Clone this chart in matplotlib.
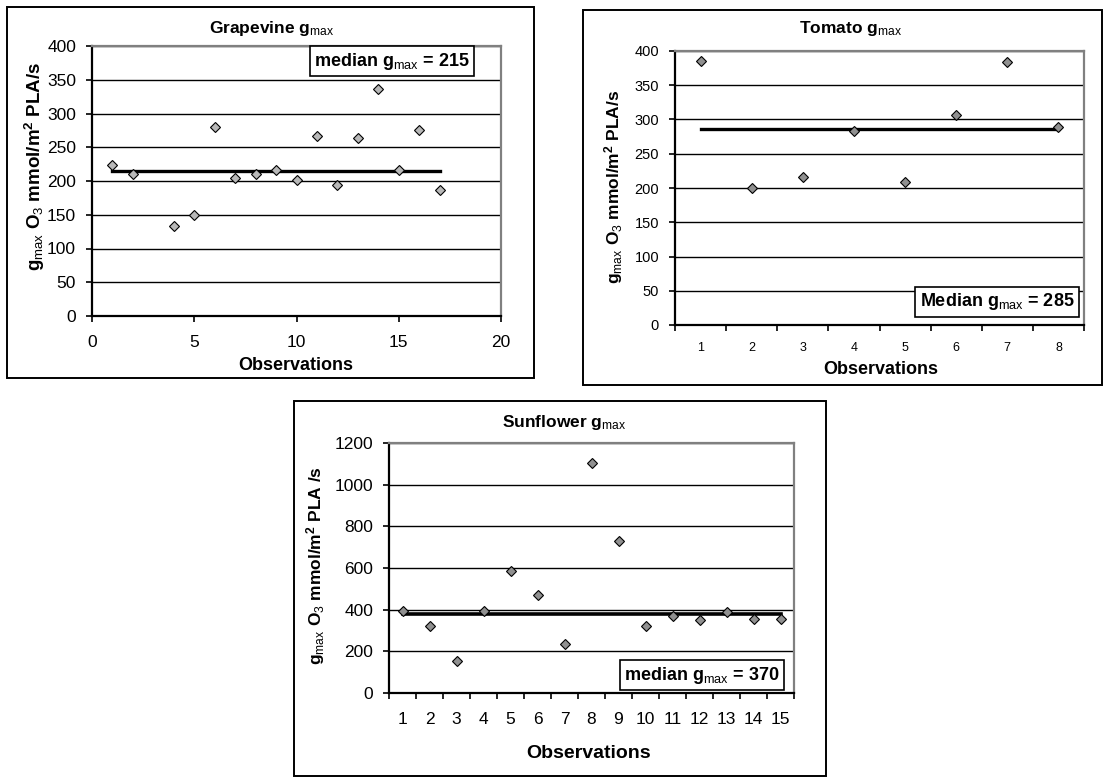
import matplotlib
matplotlib.use("Agg")
import matplotlib.pyplot as plt
from matplotlib.patches import Rectangle

plt.rcParams["font.family"] = ["Liberation Sans", "DejaVu Sans"]
plt.rcParams["mathtext.fontset"] = "custom"
plt.rcParams["mathtext.rm"] = "Liberation Sans"
plt.rcParams["mathtext.bf"] = "Liberation Sans:bold"
plt.rcParams["mathtext.it"] = "Liberation Sans:italic"

# data
grape_obs = [1, 2, 4, 5, 6, 7, 8, 9, 10, 11, 12, 13, 14, 15, 16, 17]
grape_gmax = [224, 210, 133, 150, 280, 204, 211, 216, 202, 267, 194, 264, 336, 216, 276, 187]
grape_median = 215

tomato_obs = [1, 2, 3, 4, 5, 6, 7, 8]
tomato_gmax = [385, 200, 216, 283, 209, 307, 384, 289]
tomato_median = 286

sun_obs = list(range(1, 16))
sun_gmax = [394, 322, 152, 396, 586, 471, 235, 1106, 732, 322, 372, 351, 388, 354, 356]
sun_median = 377

W, H = 1106, 778
fig = plt.figure(figsize=(W / 100, H / 100), dpi=100)


def ax_at(l, r, t, b):
    return fig.add_axes([l / W, (H - b) / H, (r - l) / W, (b - t) / H])


def ftext(x, y, s, **kw):
    fig.text(x / W, (H - y) / H, s, ha="center", va="center", **kw)


def frame(l, r, t, b):
    fig.patches.append(Rectangle((l / W, (H - b) / H), (r - l) / W, (b - t) / H,
                                 transform=fig.transFigure, fill=False,
                                 ec="black", lw=1.4))


def style(ax, fs, xpad, ypad):
    ax.yaxis.grid(True, color="black", lw=1.0)
    ax.set_axisbelow(True)
    for s in ["left", "bottom"]:
        ax.spines[s].set_color("black")
        ax.spines[s].set_linewidth(1.6)
    for s in ["top", "right"]:
        ax.spines[s].set_color("#808080")
        ax.spines[s].set_linewidth(1.6)
    ax.tick_params(axis="both", which="major", direction="out", length=4.5,
                   width=1.2, labelsize=fs)
    ax.tick_params(axis="x", which="major", pad=xpad)
    ax.tick_params(axis="y", which="major", pad=ypad)


def med_box(ax, x, y, s, fs):
    ax.text(x, y, s, transform=ax.transAxes, ha="center", va="center",
            fontsize=fs, fontweight="bold",
            bbox=dict(boxstyle="square,pad=0.25", fc="white", ec="black", lw=1.2))


ylab = r"$\mathbf{g}_{\mathrm{max}}$ O$_{\mathrm{3}}$ mmol/m$^{\mathbf{2}}$ PLA/s"
ylab_sun = r"$\mathbf{g}_{\mathrm{max}}$ O$_{\mathrm{3}}$ mmol/m$^{\mathbf{2}}$ PLA /s"

# Grapevine
frame(7, 534, 7, 378)
ax1 = ax_at(92, 501, 46, 316)
style(ax1, 12.5, 9, 7)
ax1.plot(grape_obs, grape_gmax, ls="none", marker="D", ms=5.5, mfc="#b8b8b8",
         mec="black", mew=0.8, zorder=4)
ax1.plot([grape_obs[0], grape_obs[-1]], [grape_median, grape_median],
         color="black", lw=2.4, zorder=3)
ax1.set_xlim(0, 20)
ax1.set_ylim(0, 400)
ax1.set_xticks([0, 5, 10, 15, 20])
ax1.set_yticks(range(0, 401, 50))
med_box(ax1, (392 - 92) / 409, (316 - 61) / 270, r"median g$_{\mathrm{max}}$ = 215", 13)
ftext(272, 28, r"Grapevine g$_{\mathrm{max}}$", fontsize=12.5, fontweight="bold")
ftext(296, 365, "Observations", fontsize=13, fontweight="bold")
ftext(35, 166, ylab, fontsize=13.5, fontweight="bold", rotation=90)

# Tomato
frame(583, 1102, 10, 385)
ax2 = ax_at(675, 1084, 51, 325)
style(ax2, 10.5, 4, 7)
ax2.plot(tomato_obs, tomato_gmax, ls="none", marker="D", ms=5.5, mfc="#909090",
         mec="black", mew=0.8, zorder=4)
ax2.plot([tomato_obs[0], tomato_obs[-1]], [tomato_median, tomato_median],
         color="black", lw=2.4, zorder=3)
ax2.set_xlim(0.5, len(tomato_obs) + 0.5)
ax2.set_ylim(0, 400)
ax2.set_yticks(range(0, 401, 50))
ax2.set_xticks([i + 0.5 for i in range(len(tomato_obs) + 1)])
ax2.set_xticklabels([])
ax2.set_xticks(tomato_obs, minor=True)
ax2.set_xticklabels([str(i) for i in tomato_obs], minor=True)
ax2.tick_params(axis="x", which="minor", length=0, labelsize=9, pad=12)
med_box(ax2, (997 - 675) / 409, (325 - 302) / 274, r"Median g$_{\mathrm{max}}$ = 285", 13)
ftext(851, 28, r"Tomato g$_{\mathrm{max}}$", fontsize=12.5, fontweight="bold")
ftext(881, 370, "Observations", fontsize=13, fontweight="bold")
ftext(614, 187, ylab, fontsize=12.5, fontweight="bold", rotation=90)

# Sunflower
frame(294, 826, 401, 776)
ax3 = ax_at(389, 794, 443, 693)
style(ax3, 12.5, 4, 7)
ax3.plot(sun_obs, sun_gmax, ls="none", marker="D", ms=5.5, mfc="#909090",
         mec="black", mew=0.8, zorder=4)
ax3.plot([sun_obs[0], sun_obs[-1]], [sun_median, sun_median],
         color="black", lw=2.6, zorder=3)
ax3.set_xlim(0.5, len(sun_obs) + 0.5)
ax3.set_ylim(0, 1200)
ax3.set_yticks(range(0, 1201, 200))
ax3.set_xticks([i + 0.5 for i in range(len(sun_obs) + 1)])
ax3.set_xticklabels([])
ax3.set_xticks(sun_obs, minor=True)
ax3.set_xticklabels([str(i) for i in sun_obs], minor=True)
ax3.tick_params(axis="x", which="minor", length=0, labelsize=12.5, pad=14)
med_box(ax3, (702 - 389) / 405, (693 - 675) / 250, r"median g$_{\mathrm{max}}$ = 370", 13)
ftext(564, 423, r"Sunflower g$_{\mathrm{max}}$", fontsize=12.5, fontweight="bold")
ftext(589, 753, "Observations", fontsize=14, fontweight="bold")
ftext(316, 566, ylab_sun, fontsize=12.5, fontweight="bold", rotation=90)

fig.savefig("out.png", dpi=100)
